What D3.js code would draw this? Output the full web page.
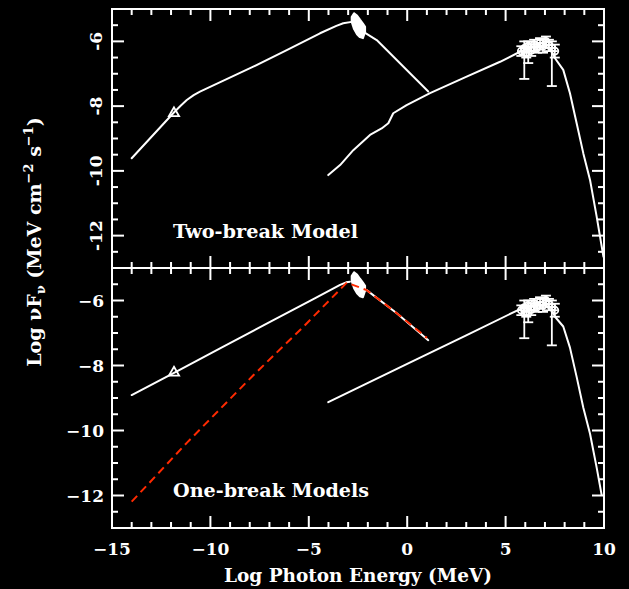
<!DOCTYPE html>
<html><head><meta charset="utf-8">
<script src="https://cdn.jsdelivr.net/npm/d3@7"></script>
<style>html,body{margin:0;padding:0;background:#000;}svg{display:block;}</style>
</head><body>
<script>
// ---------- data ----------
const xTickValues = [-15, -10, -5, 0, 5, 10];
const xTickLabels = ["\u221215", "\u221210", "\u22125", "0", "5", "10"];
const yTickValues = [-6, -8, -10, -12];
const yTickLabelsTop = ["-6", "-8", "-10", "-12"];
const yTickLabelsBot = ["\u22126", "\u22128", "\u221210", "\u221212"];

// two-break model (top)
const topSyncX = [-14.0, -11.89, -11.5, -11.2, -10.85, -10.53, -7.82, -6.12, -4.43, -3.6, -3.25, -2.74];
const topSyncY = [-9.61, -8.22, -7.98, -7.81, -7.66, -7.55, -6.78, -6.27, -5.75, -5.52, -5.44, -5.39];
const topDescX = [-2.14, -1.55, 1.07];
const topDescY = [-5.74, -5.96, -7.55];
const topIcX = [-4.01, -3.41, -2.74, -1.89, -1.30, -0.96, -0.71, -0.03, 1.16, 3.02, 4.72, 5.73, 6.3, 6.9, 7.3, 7.51, 7.93, 8.27, 8.61, 8.95, 9.29, 9.63, 9.97];
const topIcY = [-10.13, -9.82, -9.36, -8.89, -8.69, -8.53, -8.22, -7.97, -7.60, -7.09, -6.63, -6.32, -6.18, -6.12, -6.25, -6.52, -6.88, -7.60, -8.53, -9.46, -10.28, -11.42, -12.65];

// one-break models (bottom)
const botSyncX = [-14.0, -11.80, -9.51, -6.97, -4.77, -3.41, -3.1, -2.91];
const botSyncY = [-8.91, -8.21, -7.47, -6.66, -5.96, -5.52, -5.44, -5.42];
const botRedX = [-14.0, -11.2, -7.82, -5.28, -3.07, -2.06, -0.53, 1.0];
const botRedY = [-12.19, -10.38, -8.30, -6.81, -5.45, -5.68, -6.39, -7.15];
const botDescX = [-2.06, -0.53, 1.07];
const botDescY = [-5.68, -6.39, -7.22];
const botIcX = [-4.01, 0.0, 3.0, 5.82, 6.3, 6.9, 7.3, 7.51, 7.93, 8.27, 8.61, 8.95, 9.29, 9.63, 9.88];
const botIcY = [-9.13, -7.95, -7.07, -6.24, -6.16, -6.12, -6.22, -6.50, -6.80, -7.45, -8.35, -9.30, -10.10, -11.15, -11.98];

// observations (shared by both panels)
const optX = [-11.85];
const optY = [-8.22];
const xrayX = [-2.82, -2.7, -2.55, -2.4, -2.25, -2.14];
const xrayHi = [-5.25, -5.13, -5.2, -5.33, -5.45, -5.55];
const xrayLo = [-5.4, -5.62, -5.78, -5.87, -5.9, -5.7];
const gammaX  = [5.8, 5.95, 6.05, 6.15, 6.3, 6.45, 6.6, 6.75, 6.9, 7.05, 7.2, 7.35, 7.5];
const gammaY  = [-6.30, -6.22, -6.35, -6.15, -6.28, -6.10, -6.20, -6.05, -6.15, -6.00, -6.12, -6.20, -6.30];
const gammaLo = [-6.45, -7.16, -6.5, -6.67, -6.45, -6.30, -6.35, -6.25, -6.35, -6.20, -6.30, -7.38, -6.50];
const gammaHi = [-6.15, -6.00, -6.2, -6.00, -6.10, -5.95, -6.05, -5.90, -5.95, -5.85, -5.95, -6.00, -6.10];
const gammaXerr = [0.15, 0.15, 0.15, 0.15, 0.15, 0.15, 0.15, 0.15, 0.15, 0.15, 0.15, 0.15, 0.15];

const panelLabels = ["Two-break Model", "One-break Models"];

// ---------- layout ----------
const W = 629, H = 589;
const L = 112, R = 604, T = 9, MID = 268, B = 528;
const FONT = "'DejaVu Serif', serif";
const svg = d3.select("body").append("svg").attr("width", W).attr("height", H)
  .style("background", "#000");

const x = d3.scaleLinear().domain([-15, 10]).range([L, R]);
const yTop = d3.scaleLinear().domain([-13, -5]).range([MID, T]);
const yBot = d3.scaleLinear().domain([-13, -5]).range([B, MID]);

const zip = (a, b) => a.map((v, i) => [v, b[i]]);

function drawTicks(y, top, bottom) {
  const g = svg.append("g").attr("stroke", "#fff").attr("stroke-width", 2);
  const xMajor = d3.range(-15, 10.01, 5), xMinor = d3.range(-15, 10.01, 1);
  xMinor.forEach(v => {
    const len = xMajor.includes(v) ? 12 : 6;
    g.append("line").attr("x1", x(v)).attr("x2", x(v)).attr("y1", top).attr("y2", top + len);
    g.append("line").attr("x1", x(v)).attr("x2", x(v)).attr("y1", bottom).attr("y2", bottom - len);
  });
  d3.range(-13, -4.99, 0.5).forEach(v => {
    const major = Math.abs(v % 2) === 0;
    const len = major ? 12 : 6;
    g.append("line").attr("x1", L).attr("x2", L + len).attr("y1", y(v)).attr("y2", y(v));
    g.append("line").attr("x1", R).attr("x2", R - len).attr("y1", y(v)).attr("y2", y(v));
  });
}

function drawPanel(y, syncX, syncY, descX, descY, icX, icY) {
  const line = d3.line().x(d => x(d[0])).y(d => y(d[1]));
  const g = svg.append("g").attr("fill", "none").attr("stroke", "#fff").attr("stroke-width", 2)
    .attr("stroke-linejoin", "round").attr("stroke-linecap", "round");
  g.append("path").attr("d", line(zip(syncX, syncY)));
  g.append("path").attr("d", line(zip(descX, descY)));
  g.append("path").attr("d", line(zip(icX, icY)));
  // x-ray bowtie
  const area = d3.area().x(d => x(d[0])).y0(d => y(d[1])).y1(d => y(d[2]));
  svg.append("path").attr("d", area(xrayX.map((v, i) => [v, xrayLo[i], xrayHi[i]])))
    .attr("fill", "#fff").attr("stroke", "#fff").attr("stroke-width", 2).attr("stroke-linejoin", "round");
  // optical triangle
  optX.forEach((v, i) => {
    svg.append("path").attr("d", d3.symbol(d3.symbolTriangle, 45)())
      .attr("transform", `translate(${x(v)},${y(optY[i])})`)
      .attr("fill", "none").attr("stroke", "#fff").attr("stroke-width", 1.8);
  });
  // gamma data
  const gg = svg.append("g").attr("stroke", "#fff").attr("stroke-width", 1.8).attr("fill", "none");
  gammaX.forEach((v, i) => {
    const cx = x(v);
    gg.append("line").attr("x1", cx).attr("x2", cx).attr("y1", y(gammaLo[i])).attr("y2", y(gammaHi[i]));
    gg.append("line").attr("x1", cx - 5).attr("x2", cx + 5).attr("y1", y(gammaLo[i])).attr("y2", y(gammaLo[i]));
    gg.append("line").attr("x1", cx - 5).attr("x2", cx + 5).attr("y1", y(gammaHi[i])).attr("y2", y(gammaHi[i]));
    gg.append("line").attr("x1", x(v - gammaXerr[i])).attr("x2", x(v + gammaXerr[i])).attr("y1", y(gammaY[i])).attr("y2", y(gammaY[i]));
    gg.append("circle").attr("cx", cx).attr("cy", y(gammaY[i])).attr("r", 3.5);
  });
}

drawPanel(yTop, topSyncX, topSyncY, topDescX, topDescY, topIcX, topIcY);
drawPanel(yBot, botSyncX, botSyncY, botDescX, botDescY, botIcX, botIcY);

// red dashed one-break model
svg.append("path")
  .attr("d", d3.line().x(d => x(d[0])).y(d => yBot(d[1]))(zip(botRedX, botRedY)))
  .attr("fill", "none").attr("stroke", "#ff2a00").attr("stroke-width", 2)
  .attr("stroke-dasharray", "8,5");

// frame
svg.append("rect").attr("x", L).attr("y", T).attr("width", R - L).attr("height", B - T)
  .attr("fill", "none").attr("stroke", "#fff").attr("stroke-width", 2);
svg.append("line").attr("x1", L).attr("x2", R).attr("y1", MID).attr("y2", MID)
  .attr("stroke", "#fff").attr("stroke-width", 2);
drawTicks(yTop, T, MID);
drawTicks(yBot, MID, B);

// tick labels
const txt = svg.append("g").attr("fill", "#fff").attr("font-family", FONT).attr("font-weight", "bold");
xTickValues.forEach((v, i) => {
  txt.append("text").attr("x", x(v)).attr("y", 555).attr("text-anchor", "middle")
    .attr("font-size", 17).text(xTickLabels[i]);
});
yTickValues.forEach((v, i) => {
  txt.append("text").attr("transform", `translate(102,${yTop(v)}) rotate(-90)`)
    .attr("text-anchor", "middle").attr("font-size", 17).text(yTickLabelsTop[i]);
  txt.append("text").attr("x", 104).attr("y", yBot(v) + 6).attr("text-anchor", "end")
    .attr("font-size", 17).text(yTickLabelsBot[i]);
});

// axis titles
txt.append("text").attr("x", 358).attr("y", 582).attr("text-anchor", "middle")
  .attr("font-size", 18).attr("textLength", 268).attr("lengthAdjust", "spacingAndGlyphs")
  .text("Log Photon Energy (MeV)");
const yt = txt.append("text").attr("transform", "translate(41,242) rotate(-90)")
  .attr("text-anchor", "middle").attr("font-size", 19);
yt.append("tspan").text("Log \u03BDF");
yt.append("tspan").attr("font-size", 13).attr("dy", 4).text("\u03BD");
yt.append("tspan").attr("dy", -4).text(" (MeV cm");
yt.append("tspan").attr("font-size", 13).attr("dy", -8).text("\u22122");
yt.append("tspan").attr("dy", 8).text(" s");
yt.append("tspan").attr("font-size", 13).attr("dy", -8).text("\u22121");
yt.append("tspan").attr("dy", 8).text(")");

// panel labels
txt.append("text").attr("x", 173).attr("y", 238).attr("font-size", 18)
  .attr("textLength", 185).attr("lengthAdjust", "spacingAndGlyphs").text(panelLabels[0]);
txt.append("text").attr("x", 173).attr("y", 497).attr("font-size", 18)
  .attr("textLength", 196).attr("lengthAdjust", "spacingAndGlyphs").text(panelLabels[1]);
</script>
</body></html>
